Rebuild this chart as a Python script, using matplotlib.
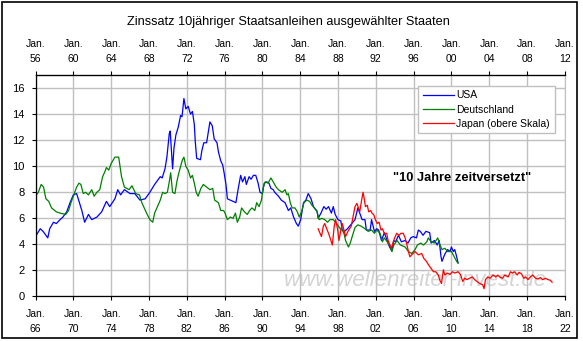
import matplotlib
matplotlib.use("Agg")
import matplotlib.pyplot as plt
from matplotlib.patches import Rectangle

plt.rcParams['font.family'] = ['Liberation Sans', 'DejaVu Sans']

# USA 10y yield (bottom scale, years)
usa_t = [1966.0, 1966.5, 1966.8, 1967.3, 1967.5, 1967.9, 1968.2, 1968.6, 1968.9, 1969.3,
         1969.65, 1970.0, 1970.35, 1970.6, 1970.9, 1971.2, 1971.6, 1971.95, 1972.5, 1973.0,
         1973.5, 1973.85, 1974.4, 1974.7, 1975.0, 1975.4, 1976.0, 1976.5, 1977.05, 1977.6,
         1978.1, 1978.6, 1979.2, 1979.4, 1979.7, 1979.9, 1980.15, 1980.25, 1980.5, 1980.65,
         1980.85, 1981.1, 1981.35, 1981.5, 1981.7, 1981.9, 1982.15, 1982.4, 1982.6, 1982.8,
         1982.9, 1983.05, 1983.45, 1983.6, 1983.8, 1984.1, 1984.3, 1984.45, 1984.7, 1984.9,
         1985.2, 1985.35, 1985.6, 1985.8, 1985.95, 1986.15, 1986.3, 1986.6, 1986.9, 1987.2,
         1987.45, 1987.7, 1987.9, 1988.15, 1988.3, 1988.6, 1988.8, 1989.05, 1989.3, 1989.55,
         1989.75, 1990.0, 1990.2, 1990.45, 1990.7, 1990.9, 1991.15, 1991.3, 1991.7, 1992.0,
         1992.4, 1992.75, 1993.0, 1993.3, 1993.6, 1993.8, 1994.05, 1994.35, 1994.6, 1994.85,
         1995.15, 1995.4, 1995.8, 1995.9, 1996.2, 1996.5, 1996.75, 1997.0, 1997.3, 1997.5,
         1997.7, 1998.0, 1998.3, 1998.45, 1998.7, 1999.0, 1999.45, 1999.8, 2000.1, 2000.3,
         2000.55, 2000.85, 2001.0, 2001.4, 2001.55, 2001.85, 2002.1, 2002.3, 2002.6, 2002.9,
         2003.45, 2003.7, 2003.9, 2004.1, 2004.4, 2004.7, 2005.1, 2005.4, 2005.7, 2005.95,
         2006.3, 2006.5, 2006.7, 2007.0, 2007.3, 2007.7, 2007.85, 2008.2, 2008.5, 2008.7,
         2008.9, 2009.0, 2009.3, 2009.6, 2009.85, 2010.0, 2010.2, 2010.35, 2010.5, 2010.7]
usa_v = [4.6, 5.2, 5.0, 4.5, 5.2, 5.7, 5.6, 5.9, 6.1, 6.5,
         7.2, 7.8, 7.9, 7.3, 6.6, 5.7, 6.3, 5.9, 6.1, 6.5,
         7.3, 6.9, 7.5, 8.2, 7.8, 8.2, 7.9, 7.9, 7.4, 7.5,
         8.0, 8.6, 9.2, 9.1, 9.8, 10.7, 12.5, 12.7, 9.8, 11.4,
         12.4, 13.0, 13.9, 13.8, 15.2, 14.4, 14.6, 14.0, 14.2, 13.2,
         11.9, 10.6, 10.5, 11.2, 11.8, 11.8, 12.7, 13.4, 13.1, 12.1,
         11.8, 11.1, 10.4, 10.1, 9.5, 8.6, 7.5, 7.4, 7.3, 7.2,
         8.3, 9.3, 8.8, 9.2, 8.6, 9.2, 9.0, 9.3, 9.3, 8.7,
         8.0, 7.9, 8.7, 8.8, 8.7, 8.3, 8.2, 8.0, 7.7, 7.4,
         7.2, 6.6, 6.8, 6.1, 5.6, 5.4, 5.9, 7.2, 7.4, 7.9,
         7.5, 6.9, 6.5, 6.0, 6.4, 6.9, 6.7, 6.9, 6.4, 6.9,
         6.3, 5.9, 5.8, 5.1, 5.0, 5.2, 5.6, 5.9, 6.8, 6.4,
         5.9, 5.9, 5.1, 5.1, 5.9, 5.0, 5.2, 5.1, 4.3, 4.9,
         3.8, 3.5, 4.3, 4.2, 4.7, 4.2, 4.3, 4.1, 4.5, 4.6,
         4.5, 5.1, 5.0, 4.7, 5.0, 4.9, 4.1, 4.3, 3.95, 4.3,
         3.05, 2.7, 3.25, 3.6, 3.45, 3.8, 3.45, 3.6, 3.2, 2.6]

# Germany 10y yield (bottom scale, years)
ger_t = [1966.0, 1966.3, 1966.6, 1966.85, 1967.1, 1967.4, 1967.7, 1968.2, 1968.6, 1969.2,
         1969.5, 1969.75, 1970.1, 1970.35, 1970.6, 1970.8, 1971.05, 1971.3, 1971.6, 1971.95,
         1972.2, 1972.5, 1972.8, 1973.1, 1973.35, 1973.5, 1973.75, 1974.0, 1974.4, 1974.8,
         1975.1, 1975.4, 1975.9, 1976.2, 1976.6, 1977.0, 1977.25, 1977.75, 1978.1, 1978.4,
         1978.6, 1978.9, 1979.2, 1979.45, 1979.7, 1979.95, 1980.15, 1980.3, 1980.5, 1980.75,
         1980.95, 1981.1, 1981.35, 1981.55, 1981.7, 1981.9, 1982.15, 1982.4, 1982.6, 1982.8,
         1983.0, 1983.2, 1983.5, 1983.75, 1984.1, 1984.45, 1984.75, 1984.95, 1985.35, 1985.6,
         1985.9, 1986.05, 1986.3, 1986.6, 1986.9, 1987.15, 1987.35, 1987.6, 1987.8, 1988.1,
         1988.4, 1988.65, 1988.9, 1989.2, 1989.4, 1989.65, 1989.9, 1990.1, 1990.3, 1990.6,
         1990.9, 1991.15, 1991.45, 1991.7, 1992.1, 1992.4, 1992.6, 1992.75, 1992.95, 1993.15,
         1993.45, 1993.7, 1993.9, 1994.15, 1994.4, 1994.7, 1995.0, 1995.25, 1995.5, 1995.75,
         1996.0, 1996.3, 1996.6, 1996.9, 1997.15, 1997.5, 1997.85, 1998.25, 1998.45, 1998.65,
         1998.8, 1999.1, 1999.3, 1999.5, 1999.8, 2000.1, 2000.45, 2000.85, 2001.2, 2001.55,
         2001.85, 2002.1, 2002.45, 2002.7, 2002.9, 2003.45, 2003.7, 2003.9, 2004.25, 2004.6,
         2005.1, 2005.45, 2005.8, 2006.15, 2006.4, 2006.75, 2007.05, 2007.4, 2007.55, 2007.85,
         2008.2, 2008.55, 2008.8, 2009.0, 2009.3, 2009.6, 2010.0, 2010.3, 2010.55, 2010.7]
ger_v = [7.7, 8.0, 8.6, 8.4, 7.5, 7.3, 6.8, 6.5, 6.4, 6.3,
         6.6, 7.2, 7.9, 8.4, 8.7, 8.6, 7.9, 8.0, 7.8, 8.2,
         7.7, 8.0, 8.2, 9.2, 9.6, 9.9, 9.7, 10.2, 10.7, 10.7,
         9.2, 8.4, 8.2, 8.5, 7.9, 7.8, 7.2, 6.4, 5.9, 5.7,
         6.4, 6.9, 7.4, 8.0, 7.9, 8.0, 8.8, 9.5, 8.0, 7.9,
         8.8, 9.3, 10.0, 10.5, 10.7, 10.0, 9.7, 9.1, 9.3, 8.7,
         8.0, 7.7, 8.3, 8.6, 8.4, 8.2, 8.3, 7.4, 7.2, 6.6,
         6.6, 6.4, 5.9, 6.1, 6.0, 6.4, 5.7, 6.1, 6.8, 6.5,
         6.3, 6.6, 6.8, 6.6, 7.2, 6.9, 7.4, 8.4, 8.8, 8.7,
         9.1, 8.8, 8.4, 8.2, 8.0, 8.2, 7.8, 7.9, 7.2, 6.8,
         6.8, 6.5, 6.1, 6.5, 7.2, 7.4, 7.3, 7.0, 6.8, 6.6,
         5.9, 6.0, 5.9, 5.7, 5.9, 5.9, 5.6, 5.2, 5.1, 4.8,
         4.3, 3.8, 4.1, 4.6, 5.3, 5.5, 5.4, 5.2, 5.0, 5.1,
         4.85, 5.1, 4.85, 4.2, 4.5, 3.95, 3.45, 3.95, 4.3, 3.95,
         3.8, 3.45, 3.3, 3.6, 3.95, 4.1, 3.95, 4.2, 4.5, 4.2,
         4.1, 4.5, 3.95, 3.6, 3.7, 3.45, 3.45, 3.05, 2.7, 2.55]

# Japan 10y yield (upper scale, years)
jpn_t = [1985.9, 1986.1, 1986.25, 1986.45, 1986.6, 1986.8, 1987.0, 1987.25, 1987.4, 1987.6,
         1987.75, 1987.95, 1988.1, 1988.3, 1988.45, 1988.6, 1988.8, 1989.05, 1989.4, 1989.8,
         1990.0, 1990.3, 1990.5, 1990.65, 1990.8, 1990.9, 1991.1, 1991.25, 1991.45, 1991.6,
         1991.8, 1991.95, 1992.15, 1992.35, 1992.55, 1992.7, 1992.9, 1993.15, 1993.3, 1993.5,
         1993.65, 1993.85, 1994.0, 1994.2, 1994.45, 1994.65, 1994.9, 1995.1, 1995.25, 1995.45,
         1995.6, 1995.8, 1996.15, 1996.5, 1996.85, 1997.1, 1997.35, 1997.6, 1997.85, 1998.1,
         1998.35, 1998.6, 1998.8, 1998.95, 1999.15, 1999.3, 1999.55, 1999.85, 2000.1, 2000.35,
         2000.7, 2000.95, 2001.2, 2001.4, 2001.65, 2001.9, 2002.2, 2002.45, 2002.7, 2003.0,
         2003.3, 2003.45, 2003.6, 2003.85, 2004.1, 2004.4, 2004.7, 2004.9, 2005.1, 2005.4,
         2005.65, 2006.0, 2006.25, 2006.45, 2006.7, 2006.95, 2007.15, 2007.4, 2007.65, 2007.85,
         2008.1, 2008.35, 2008.6, 2008.9, 2009.15, 2009.4, 2009.65, 2009.95, 2010.2, 2010.45,
         2010.65]
jpn_v = [5.2, 4.85, 4.6, 5.4, 5.6, 5.2, 4.85, 4.3, 3.95, 5.4,
         5.9, 5.2, 4.3, 5.1, 5.6, 5.2, 4.6, 5.0, 5.4, 6.9,
         7.15, 6.5, 7.4, 8.0, 7.4, 6.9, 7.0, 6.5, 6.6, 6.4,
         6.25, 5.9, 5.6, 5.7, 5.1, 5.2, 4.85, 4.85, 4.3, 3.95,
         3.7, 4.2, 4.5, 4.85, 4.7, 4.85, 4.85, 4.5, 4.1, 3.45,
         3.05, 3.2, 3.45, 3.2, 3.3, 2.9, 2.7, 2.4, 2.15, 1.9,
         1.9, 1.65, 1.2, 1.0, 2.05, 1.65, 1.8, 1.7, 1.9, 1.8,
         1.9, 1.7, 1.15, 1.4, 1.3, 1.4, 1.5, 1.3, 1.15, 1.0,
         0.9, 0.6, 1.3, 1.5, 1.4, 1.65, 1.5, 1.65, 1.5, 1.4,
         1.65, 1.5, 1.9, 1.8, 1.9, 1.65, 1.85, 1.75, 1.4, 1.5,
         1.3, 1.5, 1.65, 1.4, 1.35, 1.45, 1.3, 1.4, 1.3, 1.25,
         1.1]

year_shift = 10
bottom_years = list(range(1966, 2023, 4))

fig = plt.figure(figsize=(5.83, 3.41), dpi=100)
ax = fig.add_axes([0.0609, 0.1305, 0.908, 0.6495])

ax.plot(usa_t, usa_v, color='#0000ff', lw=0.9, label='USA')
ax.plot(ger_t, ger_v, color='#008000', lw=0.9, label='Deutschland')
ax.plot([t + year_shift for t in jpn_t], jpn_v, color='#ff0000', lw=0.9,
        label='Japan (obere Skala)')

ax.set_xlim(1966, 2022)
ax.set_ylim(0, 17)
ax.set_yticks(range(0, 17, 2))
ax.set_xticks(bottom_years)
ax.set_xticklabels(['Jan.\n%02d' % (y % 100) for y in bottom_years], linespacing=1.6)
ax.grid(True, color='#c0c0c0', lw=1.0)
ax.set_axisbelow(True)
ax.tick_params(labelsize=7.5, length=3, width=0.8, direction='out', pad=2)
ax.tick_params(axis='x', pad=6)
ax.tick_params(axis='y', labelsize=8, pad=5)
ax.spines['right'].set_color('#c0c0c0')
for s in ['left', 'bottom', 'top']:
    ax.spines[s].set_linewidth(0.9)

top = ax.secondary_xaxis('top')
top.set_xticks(bottom_years)
top.set_xticklabels(['Jan.\n%02d' % ((y - year_shift) % 100) for y in bottom_years],
                    linespacing=1.6)
top.tick_params(labelsize=7.5, length=3, width=0.8, direction='out', pad=5)

leg = ax.legend(loc='upper right', bbox_to_anchor=(0.981, 0.952), borderaxespad=0,
                fontsize=7.5, fancybox=False, framealpha=1, edgecolor='#c0c0c0',
                handlelength=3.0, handletextpad=0.2, borderpad=0.45, labelspacing=0.4)
leg.get_frame().set_linewidth(1.0)

ax.text(0.805, 0.535, '"10 Jahre zeitversetzt"', transform=ax.transAxes,
        ha='center', va='center', fontsize=9.3, fontweight='bold')
ax.text(0.717, 0.072, 'www.wellenreiter-invest.de', transform=ax.transAxes,
        ha='center', va='center', fontsize=16, style='italic', color='#d4d4d4',
        zorder=0.5)

fig.text(0.494, 0.935, 'Zinssatz 10jähriger Staatsanleihen ausgewählter Staaten',
         ha='center', va='center', fontsize=9.2)
fig.patches.append(Rectangle((1.5 / 583, 1 - 337.5 / 341), 575.5 / 583, 336 / 341,
                             transform=fig.transFigure, fill=False,
                             edgecolor='black', lw=1.2))

fig.savefig('out.png', dpi=100)
